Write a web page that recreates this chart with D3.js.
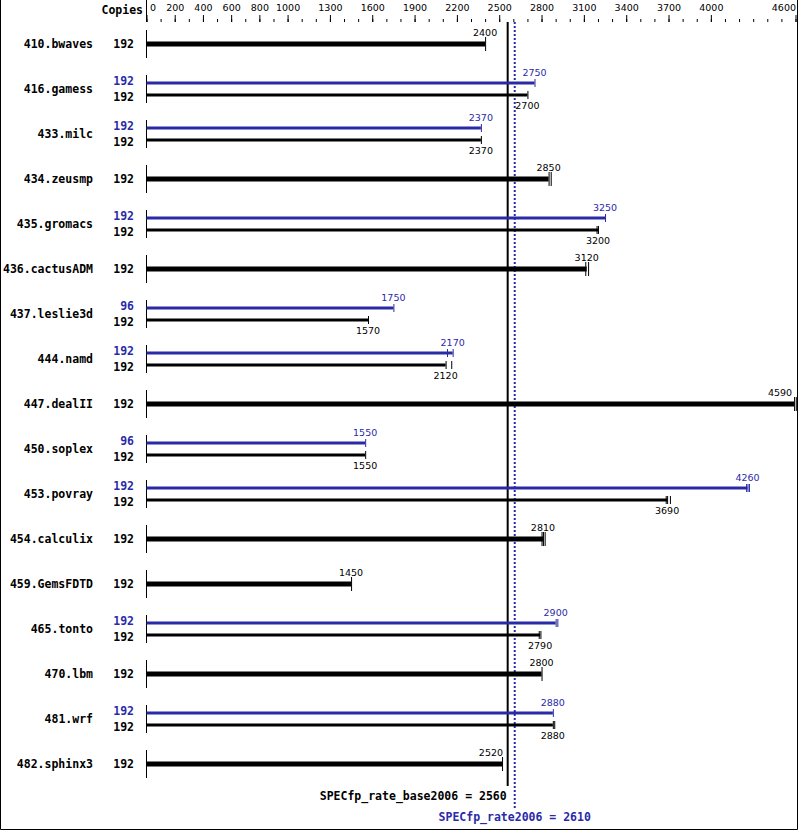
<!DOCTYPE html>
<html>
<head>
<meta charset="utf-8">
<script src="https://cdn.jsdelivr.net/npm/d3@7"></script>
<style>
  body { margin: 0; background: #fff; }
  svg { display: block; }
</style>
</head>
<body>
<script>
// benchmark rows, top to bottom
const names = ["410.bwaves", "416.gamess", "433.milc", "434.zeusmp", "435.gromacs",
  "436.cactusADM", "437.leslie3d", "444.namd", "447.dealII", "450.soplex", "453.povray",
  "454.calculix", "459.GemsFDTD", "465.tonto", "470.lbm", "481.wrf", "482.sphinx3"];
const baseCopies = [192, 192, 192, 192, 192, 192, 192, 192, 192, 192, 192, 192, 192, 192, 192, 192, 192];
const peakCopies = [null, 192, 192, null, 192, null, 96, 192, null, 96, 192, null, null, 192, null, 192, null];
const baseValues = [2400, 2700, 2370, 2850, 3200, 3120, 1570, 2120, 4590, 1550, 3690, 2810, 1450, 2790, 2800, 2880, 2520];
const peakValues = [null, 2750, 2370, null, 3250, null, 1750, 2170, null, 1550, 4260, null, null, 2900, null, 2880, null];
// individual run results (end markers)
const baseRuns = [[2400], [2700], [2370], [2850, 2865], [3190, 3200], [3110, 3130], [1570],
  [2120, 2160], [4590, 4602], [1550], [3680, 3690, 3710], [2800, 2810, 2822], [1450],
  [2780, 2792], [2800], [2880, 2890], [2520]];
const peakRuns = [null, [2750], [2370], null, [3250], null, [1750], [2130, 2170], null, [1550],
  [4250, 4260, 4270], null, null, [2900, 2912], null, [2880], null];
const majorTicks = [0, 200, 400, 600, 800, 1000, 1300, 1600, 1900, 2200, 2500, 2800, 3100, 3400, 3700, 4000, 4600];
const minorTicks = d3.range(0, 4601, 100);
const baseScore = 2560;
const peakScore = 2610;

const width = 799, height = 831;
const blue = "#2a2aa8";
const boldFont = "DejaVu Sans Mono";
const numFont = "DejaVu Sans";

const svg = d3.select("body").append("svg")
  .attr("width", width)
  .attr("height", height)
  .attr("viewBox", [0, 0, width, height]);

const x = d3.scaleLinear().domain([0, 4600]).range([146.5, 795.5]);
const y = d3.scalePoint().domain(names).range([44, 764]);

// frame
svg.append("path")
  .attr("d", `M0.5,0V${height - 1.5}H${width - 1.5}V0`)
  .attr("fill", "none")
  .attr("stroke", "#000");

// top axis: minor + major ticks
svg.append("g")
  .attr("transform", "translate(0,22)")
  .call(d3.axisTop(x).tickValues(minorTicks).tickSize(3).tickFormat(""))
  .call((g) => g.select(".domain").remove());

svg.append("g")
  .attr("transform", "translate(0,22)")
  .call(d3.axisTop(x).tickValues(majorTicks).tickSize(7).tickPadding(4).tickFormat(d3.format("d")))
  .call((g) => g.select(".domain").remove())
  .call((g) => g.selectAll("text")
    .attr("font-family", numFont)
    .attr("font-size", 9.5)
    .attr("fill", "#000")
    .attr("text-anchor", (d) => (d === 0 ? "start" : d === 4600 ? "end" : "middle"))
    .attr("dx", (d) => (d === 0 ? 3 : 0)));

svg.append("line")
  .attr("x1", x(0)).attr("x2", x(0))
  .attr("y1", 0).attr("y2", 22)
  .attr("stroke", "#000");

svg.append("text")
  .attr("x", 143).attr("y", 14)
  .attr("text-anchor", "end")
  .attr("font-family", boldFont).attr("font-weight", "bold").attr("font-size", 11.5)
  .text("Copies");

// reference lines
svg.append("line")
  .attr("x1", x(baseScore)).attr("x2", x(baseScore))
  .attr("y1", 22).attr("y2", 786)
  .attr("stroke", "#000").attr("stroke-width", 2);

svg.append("line")
  .attr("x1", x(peakScore)).attr("x2", x(peakScore))
  .attr("y1", 22).attr("y2", 809)
  .attr("stroke", blue).attr("stroke-width", 2)
  .attr("stroke-dasharray", "2,2");

const I = d3.range(names.length);
const rows = svg.append("g").selectAll("g")
  .data(I)
  .join("g")
  .attr("transform", (i) => `translate(0,${y(names[i])})`);

rows.append("line")
  .attr("x1", x(0)).attr("x2", x(0))
  .attr("y1", -14).attr("y2", 14)
  .attr("stroke", "#000");

rows.append("text")
  .attr("x", 93).attr("y", 4)
  .attr("text-anchor", "end")
  .attr("font-family", boldFont).attr("font-weight", "bold").attr("font-size", 11.5)
  .text((i) => names[i]);

// draws one bar with its run markers and value label
function bar(g, value, runs, dy, thick, color, labelDy) {
  g.append("line")
    .attr("x1", x(0)).attr("x2", x(value))
    .attr("y1", dy).attr("y2", dy)
    .attr("stroke", color).attr("stroke-width", thick ? 5 : 3);
  const h = thick ? 7 : 4;
  runs.forEach((r) => {
    g.append("line")
      .attr("x1", x(r) + 0.5).attr("x2", x(r) + 0.5)
      .attr("y1", dy - h).attr("y2", dy + h)
      .attr("stroke", color).attr("stroke-width", 1);
  });
  // keep the label off the frame edge and off the base line
  const nearEdge = x(value) + 14 > width - 4;
  const nearBase = value < baseScore && x(baseScore) - x(value) < 14;
  const shift = nearEdge || nearBase;
  g.append("text")
    .attr("x", shift ? x(value) + (nearEdge ? -2 : 1) : x(value)).attr("y", dy + labelDy)
    .attr("text-anchor", shift ? "end" : "middle")
    .attr("font-family", numFont).attr("font-size", 9.5)
    .attr("fill", color)
    .text(value);
}

rows.each(function (i) {
  const g = d3.select(this);
  const copiesText = (t, dy, color) => g.append("text")
    .attr("x", 134).attr("y", dy)
    .attr("text-anchor", "end")
    .attr("font-family", boldFont).attr("font-weight", "bold").attr("font-size", 11.5)
    .attr("fill", color)
    .text(t);
  if (peakValues[i] == null) {
    copiesText(baseCopies[i], 4, "#000");
    bar(g, baseValues[i], baseRuns[i], 0, true, "#000", -8);
  } else {
    copiesText(peakCopies[i], -4, blue);
    copiesText(baseCopies[i], 12, "#000");
    bar(g, peakValues[i], peakRuns[i], -6, false, blue, -7);
    bar(g, baseValues[i], baseRuns[i], 6, false, "#000", 14);
  }
});

// score labels
svg.append("text")
  .attr("x", x(baseScore) - 1).attr("y", 800)
  .attr("text-anchor", "end")
  .attr("font-family", boldFont).attr("font-weight", "bold").attr("font-size", 11.5)
  .text(`SPECfp_rate_base2006 = ${baseScore}`);

svg.append("text")
  .attr("x", x(peakScore)).attr("y", 821)
  .attr("text-anchor", "middle")
  .attr("font-family", boldFont).attr("font-weight", "bold").attr("font-size", 11.5)
  .attr("fill", blue)
  .text(`SPECfp_rate2006 = ${peakScore}`);
</script>
</body>
</html>
